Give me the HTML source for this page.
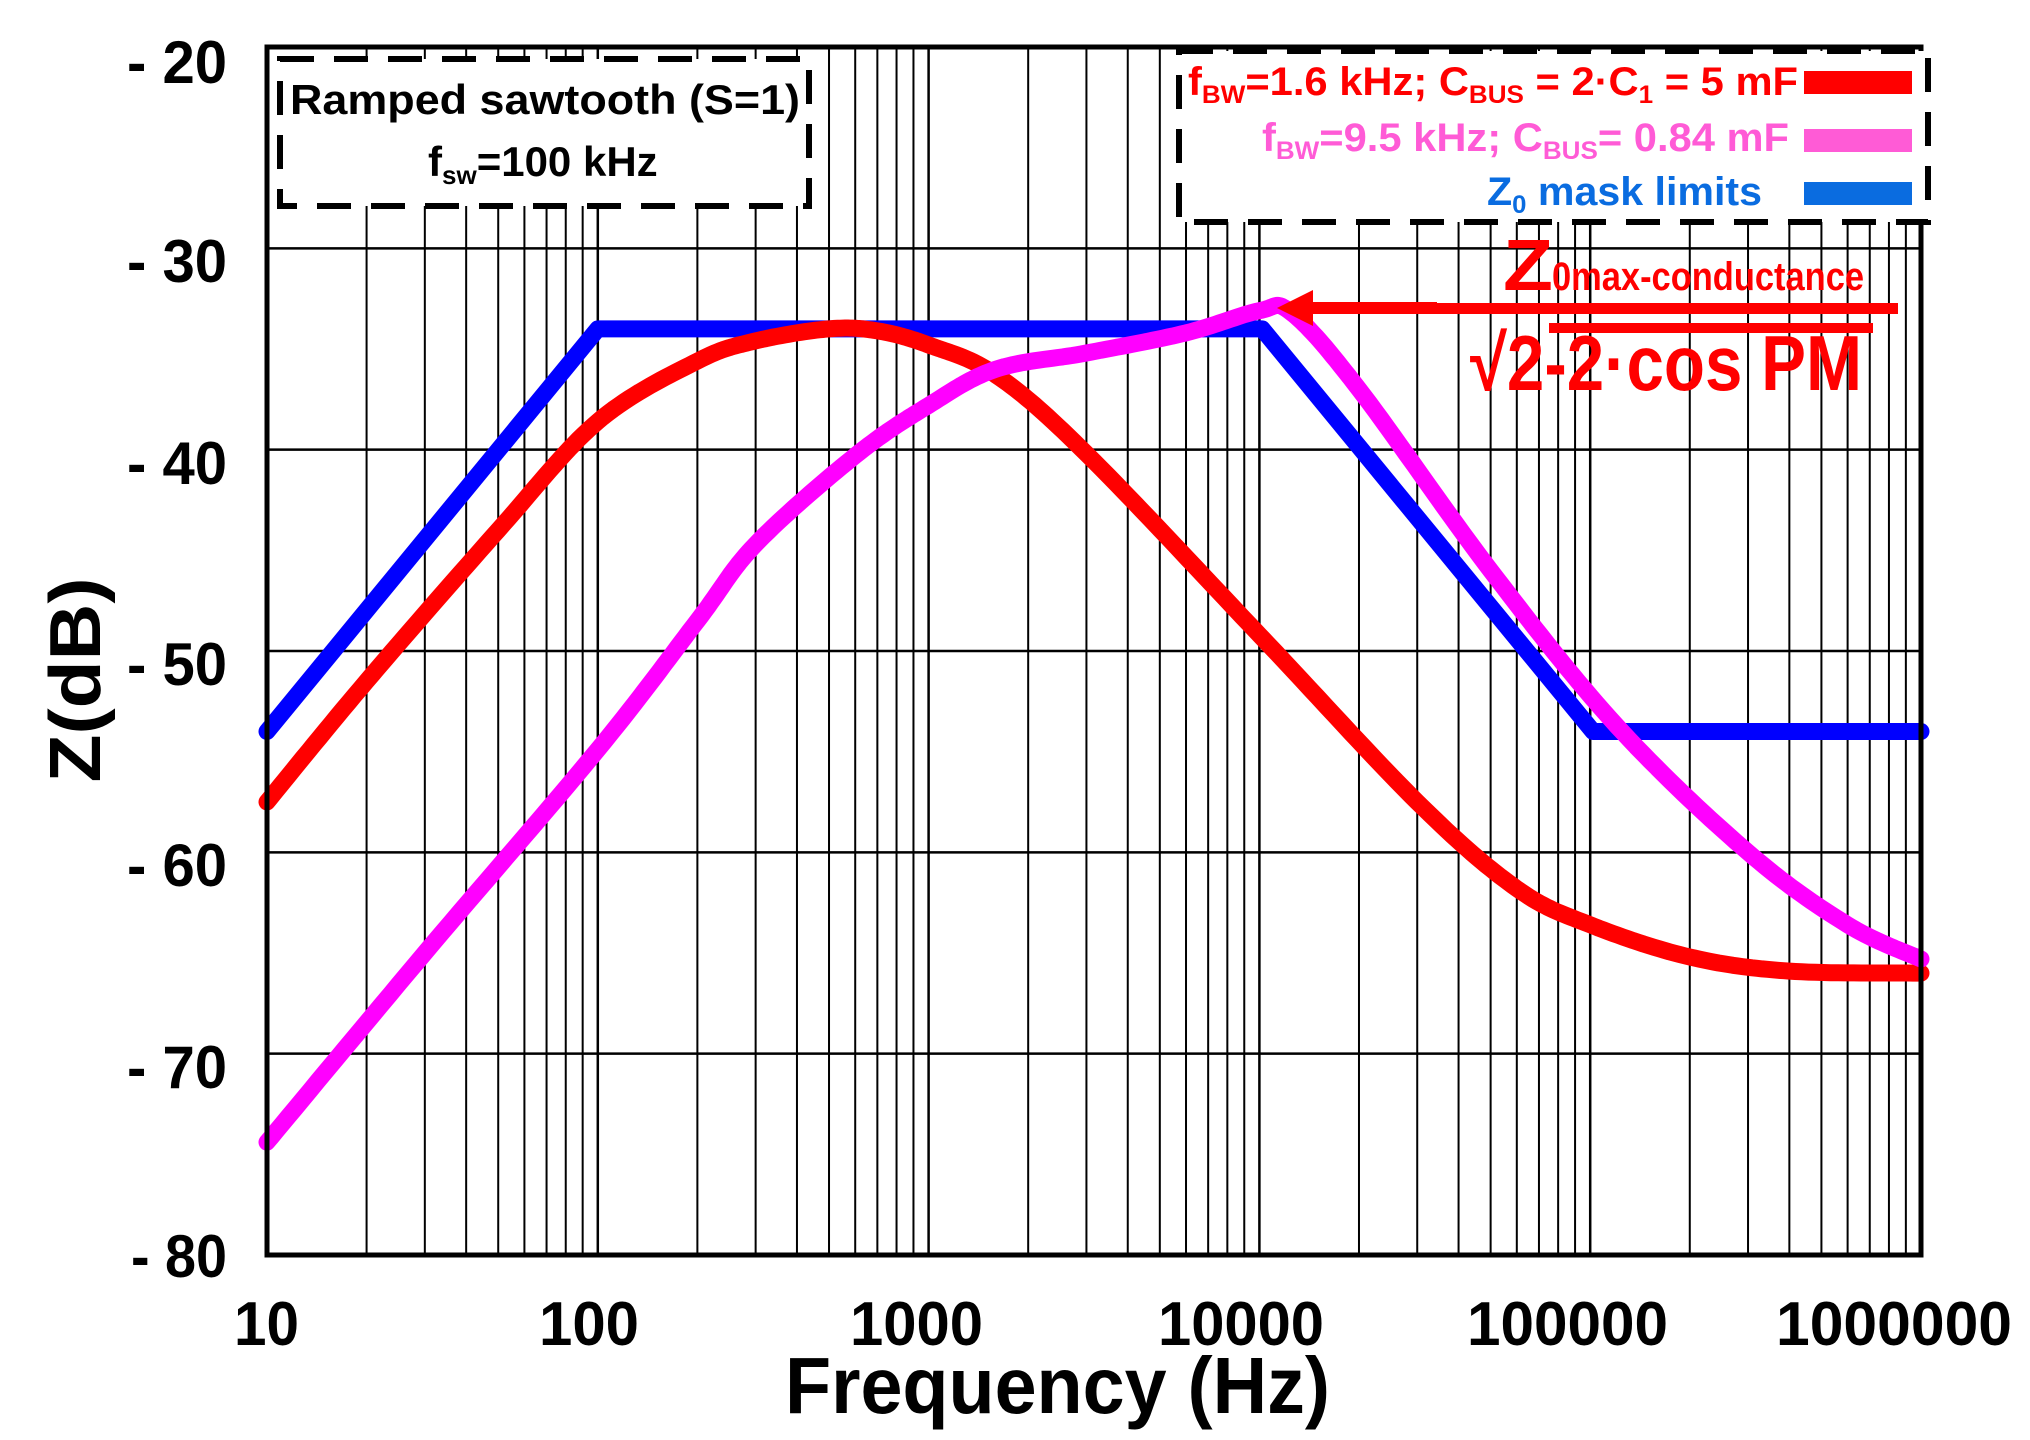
<!DOCTYPE html>
<html><head><meta charset="utf-8"><style>
html,body{margin:0;padding:0;background:#fff;width:2030px;height:1440px;overflow:hidden}
svg{display:block}
text{font-family:"Liberation Sans",sans-serif;font-weight:bold}
</style></head><body>
<svg id="s" width="2030" height="1440" viewBox="0 0 2030 1440" xmlns="http://www.w3.org/2000/svg">
<g id="grid"></g>
<g id="curves"></g>
<rect x="267" y="47" width="1654" height="1208" fill="none" stroke="#000" stroke-width="5"/>
<g font-size="60" text-anchor="end">
<text x="227" y="83" textLength="100" lengthAdjust="spacingAndGlyphs">- 20</text>
<text x="227" y="282" textLength="100" lengthAdjust="spacingAndGlyphs">- 30</text>
<text x="227" y="484" textLength="100" lengthAdjust="spacingAndGlyphs">- 40</text>
<text x="227" y="685" textLength="100" lengthAdjust="spacingAndGlyphs">- 50</text>
<text x="227" y="886" textLength="100" lengthAdjust="spacingAndGlyphs">- 60</text>
<text x="227" y="1088" textLength="100" lengthAdjust="spacingAndGlyphs">- 70</text>
<text x="227" y="1277" textLength="96" lengthAdjust="spacingAndGlyphs">- 80</text>
</g>
<g font-size="62">
<text x="234" y="1345" textLength="65" lengthAdjust="spacingAndGlyphs">10</text>
<text x="539" y="1345" textLength="100" lengthAdjust="spacingAndGlyphs">100</text>
<text x="850" y="1345" textLength="133" lengthAdjust="spacingAndGlyphs">1000</text>
<text x="1158" y="1345" textLength="166" lengthAdjust="spacingAndGlyphs">10000</text>
<text x="1467" y="1345" textLength="201" lengthAdjust="spacingAndGlyphs">100000</text>
<text x="1776" y="1345" textLength="236" lengthAdjust="spacingAndGlyphs">1000000</text>
</g>
<text x="785" y="1413" font-size="80" textLength="545" lengthAdjust="spacingAndGlyphs">Frequency (Hz)</text>
<text transform="translate(100,680) rotate(-90)" font-size="72" text-anchor="middle" textLength="205" lengthAdjust="spacingAndGlyphs">Z(dB)</text>

<rect x="280" y="59" width="529" height="147" fill="#fff" stroke="#000" stroke-width="6" stroke-dasharray="34,20"/>
<text x="290" y="114" font-size="42" textLength="510" lengthAdjust="spacingAndGlyphs">Ramped sawtooth (S=1)</text>
<text x="428" y="176" font-size="42">f<tspan font-size="26" dy="8">sw</tspan><tspan dy="-8">=100 kHz</tspan></text>

<rect x="1179" y="51" width="749" height="171" fill="#fff" stroke="#000" stroke-width="6" stroke-dasharray="34,20"/>
<text x="1798" y="95" font-size="40" fill="#ff0000" text-anchor="end" textLength="610" lengthAdjust="spacingAndGlyphs">f<tspan font-size="25" dy="8">BW</tspan><tspan dy="-8">=1.6 kHz; C</tspan><tspan font-size="25" dy="8">BUS</tspan><tspan dy="-8"> = 2·C</tspan><tspan font-size="25" dy="8">1</tspan><tspan dy="-8"> = 5 mF</tspan></text>
<text x="1789" y="151" font-size="40" fill="#ff5bd6" text-anchor="end" textLength="527" lengthAdjust="spacingAndGlyphs">f<tspan font-size="25" dy="8">BW</tspan><tspan dy="-8">=9.5 kHz; C</tspan><tspan font-size="25" dy="8">BUS</tspan><tspan dy="-8">= 0.84 mF</tspan></text>
<text x="1762" y="205" font-size="40" fill="#0a6ce0" text-anchor="end" textLength="275" lengthAdjust="spacingAndGlyphs">Z<tspan font-size="25" dy="8">0</tspan><tspan dy="-8"> mask limits</tspan></text>
<rect x="1804" y="71" width="108" height="23" fill="#ff0000"/>
<rect x="1804" y="129" width="108" height="23" fill="#ff5bd6"/>
<rect x="1804" y="182" width="108" height="23" fill="#0a6ce0"/>

<text x="1503" y="290" font-size="72" fill="#ff0000" textLength="50" lengthAdjust="spacingAndGlyphs">Z</text>
<text x="1552" y="290" font-size="40" fill="#ff0000" textLength="312" lengthAdjust="spacingAndGlyphs">0max-conductance</text>
<rect x="1437" y="303" width="461" height="11" fill="#ff0000"/>
<rect x="1549" y="323" width="324" height="10" fill="#ff0000"/>
<text x="1470" y="390" font-size="78" fill="#ff0000" textLength="392" lengthAdjust="spacingAndGlyphs">√2-2·cos PM</text>
<rect x="1310" y="302" width="127" height="12" fill="#ff0000"/>
<polygon points="1277,308 1313,290 1313,326" fill="#ff0000"/>
</svg>
<script>
const NS="http://www.w3.org/2000/svg";
const fx=f=>267+330.8*Math.log10(f/10);
const fy=d=>47+(-20-d)*20.133;
const grid=document.getElementById('grid');
function line(x1,y1,x2,y2,w){const l=document.createElementNS(NS,'line');l.setAttribute('x1',x1);l.setAttribute('y1',y1);l.setAttribute('x2',x2);l.setAttribute('y2',y2);l.setAttribute('stroke','#000');l.setAttribute('stroke-width',w);grid.appendChild(l);}
for(let d=-30;d>=-70;d-=10)line(267,fy(d),1921,fy(d),2.5);
for(let e=1;e<=5;e++)for(let m=1;m<=9;m++){const f=m*Math.pow(10,e);if(f<=10||f>=1e6)continue;line(fx(f),47,fx(f),1255,m==1?2.5:2);}
const curves=document.getElementById('curves');
function curve(pts,color){
  const P=pts.map(p=>[Math.log10(p[0]),p[1]]);
  let out=[];
  for(let i=0;i<P.length-1;i++){
    const p0=P[Math.max(0,i-1)],p1=P[i],p2=P[i+1],p3=P[Math.min(P.length-1,i+2)];
    for(let k=0;k<20;k++){const t=k/20,t2=t*t,t3=t2*t;
      const c=j=>0.5*((2*p1[j])+(-p0[j]+p2[j])*t+(2*p0[j]-5*p1[j]+4*p2[j]-p3[j])*t2+(-p0[j]+3*p1[j]-3*p2[j]+p3[j])*t3);
      out.push([c(0),c(1)]);}
  }
  out.push(P[P.length-1]);
  const pl=document.createElementNS(NS,'polyline');
  pl.setAttribute('points',out.map(p=>fx(Math.pow(10,p[0])).toFixed(1)+','+fy(p[1]).toFixed(1)).join(' '));
  pl.setAttribute('fill','none');pl.setAttribute('stroke',color);pl.setAttribute('stroke-width',17);
  pl.setAttribute('stroke-linejoin','round');pl.setAttribute('stroke-linecap','round');
  curves.appendChild(pl);
}
function poly(pts,color){const pl=document.createElementNS(NS,'polyline');
  pl.setAttribute('points',pts.map(p=>fx(p[0]).toFixed(1)+','+fy(p[1]).toFixed(1)).join(' '));
  pl.setAttribute('fill','none');pl.setAttribute('stroke',color);pl.setAttribute('stroke-width',17);
  pl.setAttribute('stroke-linejoin','round');pl.setAttribute('stroke-linecap','round');curves.appendChild(pl);}
poly([[10,-54],[100,-34],[10200,-34],[102000,-54],[1e6,-54]],'#0000ff');
curve([[10,-57.5],[20,-51.5],[50,-44],[100,-38.6],[200,-35.6],[300,-34.6],[500,-34],[700,-34.1],[1000,-34.8],[1600,-36.3],[3000,-40.2],[10000,-49.2],[30000,-57.5],[60000,-61.8],[100000,-63.6],[200000,-65.2],[400000,-65.9],[1e6,-66]],'#ff0000');
curve([[10,-74.4],[30,-65],[100,-54.9],[200,-48.5],[300,-44.7],[600,-40.3],[1000,-37.8],[1600,-36],[3000,-35.2],[6000,-34.2],[10000,-33.1],[12500,-33.2],[20000,-37],[50000,-46],[120000,-53.7],[300000,-60],[600000,-63.6],[1e6,-65.3]],'#ff00ff');
</script>
</body></html>
